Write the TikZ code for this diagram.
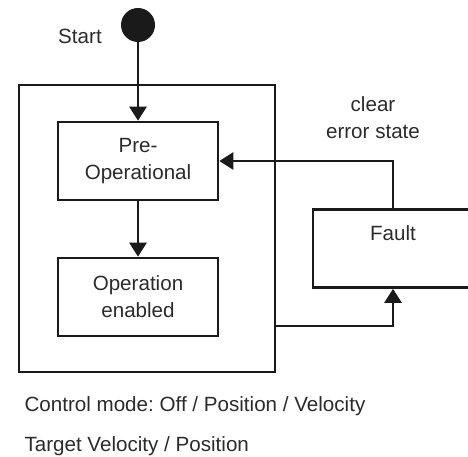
\documentclass[tikz,border=0pt]{standalone}
\usepackage{fontspec}
\setmainfont{Liberation Sans}
\usetikzlibrary{positioning,arrows.meta,calc}
\definecolor{fgdark}{HTML}{1a1a1a}
\definecolor{txtdark}{HTML}{2b2b2b}
\frenchspacing

\begin{document}
\begin{tikzpicture}[
    x=1pt,y=-1pt,
    >={Triangle[length=14pt,width=17pt]},
    every node/.style={font=\fontsize{20.6}{27}\selectfont,text=txtdark},
    state/.style={
        draw=fgdark,
        line width=2.6pt,
        minimum width=160pt,
        minimum height=78pt,
        align=center,
    },
    frame/.style={
        draw=fgdark,
        line width=2.6pt,
        minimum width=256pt,
        minimum height=287pt,
    },
    arrow/.style={->,line width=2.6pt,color=fgdark},
    caption/.style={anchor=west,text=txtdark},
]
\useasboundingbox (0,0) rectangle (468,457);

% Initial state
\node[circle,fill=fgdark,minimum size=34pt,inner sep=0pt] (init) at (138,25) {};
\node (start) at (80,36) {Start};

% Enclosing frame
\node[frame] (outer) at (147,228.5) {};

% States inside the frame
\node[state] (preop) at (138,161) {Pre-\\Operational};
\node[state] (openabled) at (138,297) {Operation\\enabled};

% Fault state (cut at the right edge)
\node[state,text height=15pt,text depth=32pt] (fault) at (393,248.5) {Fault};

% Transition label
\node[align=center] (clearlbl) at (373,118) {clear\\error state};

\coordinate (exitpt) at (275,326);

\draw[arrow] (init) -- (preop);
\draw[arrow] (preop) -- (openabled);
\draw[arrow] (fault.north) |- (preop.east);
\draw[arrow] (exitpt) -| (fault.south);

% Captions below
\node[caption] (modes) at (21,406) {Control mode: Off / Position / Velocity};
\node[caption] (target) at (21,446) {Target Velocity / Position};

\end{tikzpicture}
\end{document}
